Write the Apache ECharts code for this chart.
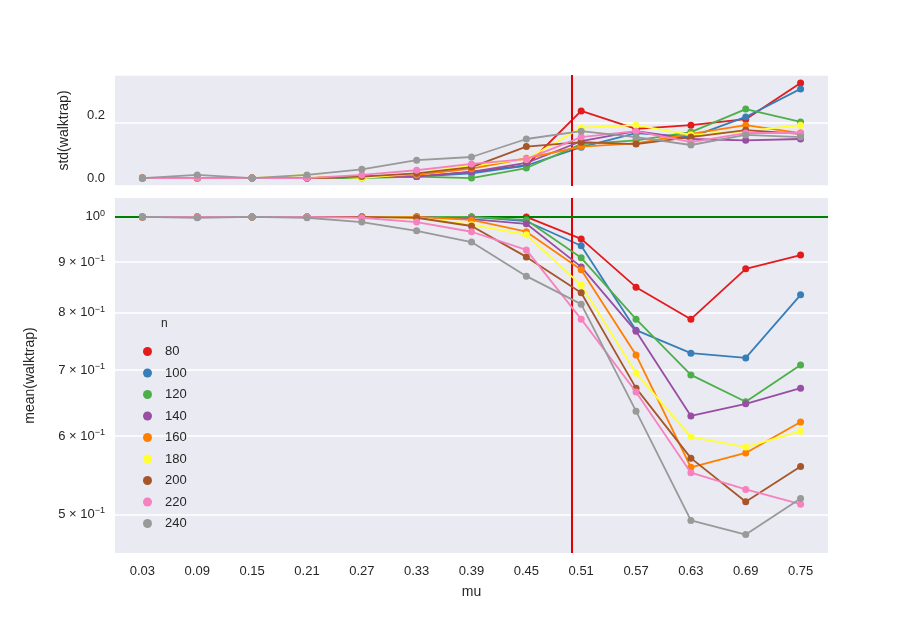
<!DOCTYPE html>
<html><head><meta charset="utf-8">
<script src="https://cdn.jsdelivr.net/npm/echarts@6/dist/echarts.min.js"></script>
<style>html,body{margin:0;background:#fff}#c{width:921px;height:633px}</style>
</head><body><div id="c"></div>
<script>
const mu = ["0.03","0.09","0.15","0.21","0.27","0.33","0.39","0.45","0.51","0.57","0.63","0.69","0.75"];
const sizes = ["80","100","120","140","160","180","200","220","240"];
const colors = ["#e41a1c","#377eb8","#4daf4a","#984ea3","#ff7f00","#ffff33","#a65628","#f781bf","#999999"];

const meanVals = [
  [1,1,1,1,1,1,1,1.0,0.950,0.849,0.788,0.886,0.915],
  [1,1,1,1,1,1,1,0.99,0.935,0.768,0.728,0.720,0.834],
  [1,1,1,1,1,1,1,0.993,0.909,0.788,0.692,0.650,0.708],
  [1,1,1,1,1,1,0.995,0.984,0.890,0.766,0.629,0.647,0.671],
  [1,1,1,1,1,1,0.993,0.966,0.884,0.725,0.558,0.577,0.620],
  [1,1,1,1,1,0.998,0.982,0.959,0.853,0.695,0.599,0.585,0.607],
  [1,1,1,1,1,0.998,0.979,0.911,0.838,0.671,0.570,0.515,0.559],
  [1,1,1,1,0.998,0.988,0.966,0.926,0.788,0.665,0.551,0.530,0.512],
  [1,0.998,1,0.998,0.988,0.968,0.943,0.871,0.816,0.636,0.493,0.477,0.519]
];
const stdVals = [
  [0,0,0,0,0.005,0.005,0.02,0.04,0.213,0.156,0.168,0.187,0.302],
  [0,0,0,0,0.005,0.005,0.015,0.04,0.098,0.143,0.130,0.194,0.283],
  [0,0,0,0,0,0.005,0,0.032,0.108,0.120,0.146,0.219,0.178],
  [0,0,0,0,0.005,0.005,0.02,0.048,0.117,0.149,0.124,0.120,0.124],
  [0,0,0,0,0.005,0.01,0.03,0.063,0.100,0.110,0.140,0.168,0.143],
  [0,0,0,0.01,0,0.015,0.04,0.060,0.160,0.168,0.137,0.149,0.168],
  [0,0,0,0,0.005,0.015,0.035,0.100,0.114,0.108,0.130,0.152,0.140],
  [0,0,0,0,0.01,0.025,0.045,0.060,0.130,0.149,0.114,0.143,0.143],
  [0,0.01,0,0.01,0.028,0.057,0.067,0.124,0.149,0.130,0.105,0.137,0.130]
];
const meanTicks = [0.5,0.6,0.7,0.8,0.9,1.0];
const meanTickLabels = ["{a|5 × 10}{b|−1}","{a|6 × 10}{b|−1}","{a|7 × 10}{b|−1}","{a|8 × 10}{b|−1}","{a|9 × 10}{b|−1}","{a|10}{b|0}"];
const cutIndex = 7.82; // mu = 0.5 on category index scale

const font = "Liberation Sans";
const txt = "#262626";
const rich = {
  a:{fontSize:13,color:txt,fontFamily:font,lineHeight:16},
  b:{fontSize:9,color:txt,fontFamily:font,lineHeight:9,verticalAlign:"top"}
};

const series = [];
sizes.forEach((n,i)=>{
  const common = {type:"line",name:n,symbol:"circle",symbolSize:7,color:colors[i],
    lineStyle:{width:1.8,color:colors[i]},itemStyle:{color:colors[i]},z:3+i,animation:false};
  series.push(Object.assign({},common,{xAxisIndex:0,yAxisIndex:0,data:stdVals[i]}));
  series.push(Object.assign({},common,{xAxisIndex:1,yAxisIndex:1,data:meanVals[i]}));
});
series.push({type:"line",xAxisIndex:2,yAxisIndex:0,data:[],silent:true,
  markLine:{symbol:"none",silent:true,label:{show:false},lineStyle:{color:"#e00000",width:2,type:"solid"},data:[{xAxis:cutIndex}]}});
series.push({type:"line",xAxisIndex:3,yAxisIndex:1,data:[],silent:true,
  markLine:{symbol:"none",silent:true,label:{show:false},lineStyle:{color:"#e00000",width:2,type:"solid"},data:[{xAxis:cutIndex}]}});
series.push({type:"line",xAxisIndex:1,yAxisIndex:1,data:[],silent:true,
  markLine:{symbol:"none",silent:true,label:{show:false},lineStyle:{color:"#008000",width:2,type:"solid"},data:[{yAxis:1}]}});

const chart = echarts.init(document.getElementById("c"));
const hiddenX = (g)=>({type:"value",gridIndex:g,min:-0.5,max:12.5,show:false});
chart.setOption({
  animation:false,
  backgroundColor:"#fff",
  textStyle:{fontFamily:font},
  grid:[
    {left:115,top:75,width:713,height:111,backgroundColor:"#eaeaf2",show:true,borderWidth:0},
    {left:115,top:198,width:713,height:355,backgroundColor:"#eaeaf2",show:true,borderWidth:0}
  ],
  legend:{data:sizes,orient:"vertical",left:138,top:340,itemGap:8.5,itemWidth:9,itemHeight:14.5,icon:"circle",
    textStyle:{fontSize:13,color:txt,fontFamily:font,padding:[0,0,0,8]}},
  graphic:[{type:"text",left:161,top:318,style:{text:"n",fontSize:12,fill:txt,fontFamily:font}}],
  xAxis:[
    {type:"category",gridIndex:0,data:mu,axisLabel:{show:false},axisTick:{show:false},axisLine:{show:false},splitLine:{show:false}},
    {type:"category",gridIndex:1,data:mu,name:"mu",nameLocation:"middle",nameGap:32,
      nameTextStyle:{fontSize:14,color:txt,fontFamily:font},
      axisLabel:{fontSize:13,color:txt,margin:12},axisTick:{show:false},axisLine:{show:false},splitLine:{show:false}},
    hiddenX(0),hiddenX(1)
  ],
  yAxis:[
    {type:"value",gridIndex:0,min:-0.025,max:0.327,interval:0.2,name:"std(walktrap)",nameLocation:"middle",nameGap:44,
      nameTextStyle:{fontSize:14,color:txt,fontFamily:font},
      axisLabel:{fontSize:13,color:txt,margin:10,formatter:v=>v.toFixed(1),customValues:[0,0.2]},
      axisTick:{show:false},axisLine:{show:false},splitLine:{show:true,lineStyle:{color:"#fff",width:1.5}}},
    {type:"log",gridIndex:1,min:0.457,max:1.045,name:"mean(walktrap)",nameLocation:"middle",nameGap:78,
      nameTextStyle:{fontSize:14,color:txt,fontFamily:font},
      axisLabel:{customValues:meanTicks,margin:10,formatter:v=>{const k=meanTicks.findIndex(t=>Math.abs(t-v)<1e-6);return k>=0?meanTickLabels[k]:"";},rich:rich},
      axisTick:{show:false,customValues:meanTicks},axisLine:{show:false},splitLine:{show:true,lineStyle:{color:"#fff",width:1.5}}}
  ],
  series:series
});
</script></body></html>
